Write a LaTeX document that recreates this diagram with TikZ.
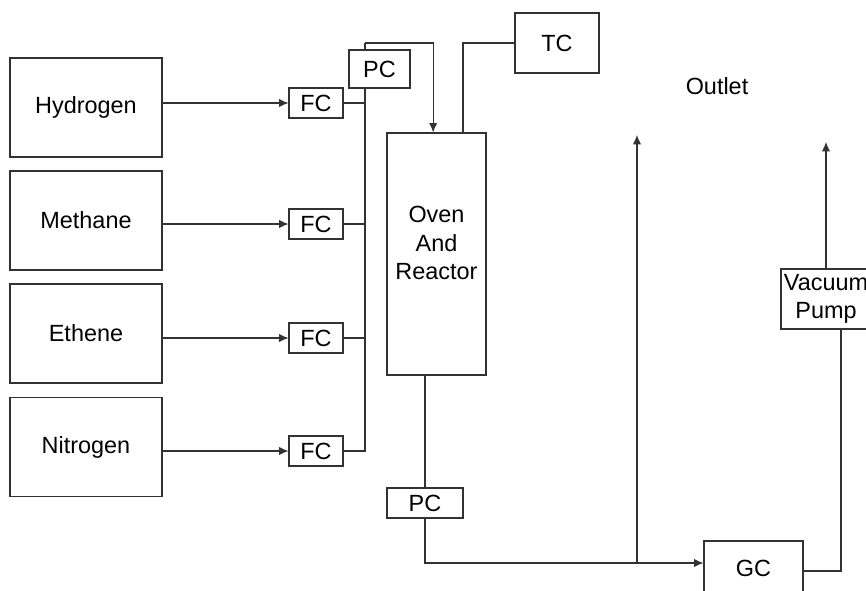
\documentclass[tikz,border=0pt]{standalone}
\usepackage{fontspec}
\setmainfont{Liberation Sans}
\usetikzlibrary{arrows.meta}
\definecolor{linegray}{RGB}{50,50,50}

\begin{document}
\begin{tikzpicture}[
    x=0.03cm, y=-0.03cm,
    every node/.style={font=\fontsize{20}{24}\selectfont},
    gas/.style={rectangle,draw=linegray,line width=0.9pt,inner sep=0pt,
      minimum width=4.56cm,minimum height=2.97cm},
    ctrl/.style={rectangle,draw=linegray,fill=white,line width=0.9pt,inner sep=0pt,
      minimum width=1.62cm,minimum height=0.9cm,align=center},
    line/.style={draw=linegray,line width=0.9pt},
    arrow/.style={line,-{Latex[length=8pt,width=7pt]}}
  ]
    \useasboundingbox (0,0) rectangle (866,591);
    \clip (0,0) rectangle (866,591);

    % gas supplies and flow controllers
    \node[gas] (hydrogen) at (86,107.5) {Hydrogen};
    \node[gas] (methane) at (86,220.5) {Methane};
    \node[gas] (ethene) at (86,333.5) {Ethene};
    \node[gas] (nitrogen) at (86,447) {Nitrogen};

    \node[ctrl] (fchyd) at (316,103) {FC};
    \node[ctrl] (fcmet) at (316,224) {FC};
    \node[ctrl] (fceth) at (316,338) {FC};
    \node[ctrl] (fcnit) at (316,451) {FC};

    \node[ctrl,minimum width=2.97cm,minimum height=7.26cm,
      label={[align=center,yshift=0.33cm]center:Oven\\And\\Reactor}] (oven) at (436.5,254) {};
    \node[ctrl,minimum width=2.52cm,minimum height=1.8cm] (tc) at (557,43) {TC};
    \node[ctrl,minimum width=2.28cm] (pcout) at (425,503) {PC};
    \node[ctrl,minimum width=2.97cm,minimum height=1.62cm] (gc) at (753.5,568) {GC};
    \node[ctrl,minimum width=2.7cm,minimum height=1.8cm] (pump) at (826,299) {Vacuum\\Pump};
    \node (outlet) at (717,86) {Outlet};

    \coordinate (bustop) at (365,43);
    \coordinate (busbot) at (365,451);
    \coordinate (split) at (637,563);
    \coordinate (vent) at (637,135);
    \coordinate (exhaust) at (826,142);

    \draw[arrow] (hydrogen.east |- fchyd.west) -- (fchyd.west);
    \draw[arrow] (methane.east |- fcmet.west) -- (fcmet.west);
    \draw[arrow] (ethene.east |- fceth.west) -- (fceth.west);
    \draw[arrow] (nitrogen.east |- fcnit.west) -- (fcnit.west);

    % manifold into the oven
    \draw[line] (fchyd.east) -- (fchyd.east -| bustop);
    \draw[line] (fcmet.east) -- (fcmet.east -| bustop);
    \draw[line] (fceth.east) -- (fceth.east -| bustop);
    \draw[line] (fcnit.east) -- (busbot) -- (bustop);
    \draw[arrow] (bustop) -| ([xshift=-0.1cm]oven.north);
    \node[ctrl,minimum width=1.83cm,minimum height=1.14cm] (pcin) at (379.5,69) {PC};

    \draw[line] ([xshift=0.795cm]oven.north) |- (tc.west);

    % outlet side
    \draw[line] (oven.south -| pcout.north) -- (pcout.north);
    \draw[line] (pcout.south) |- (split);
    \draw[arrow] (split) -- (split -| gc.west);
    \draw[arrow] (split) -- (vent);
    \draw[line] ([yshift=-0.09cm]gc.east) -| ([xshift=0.45cm]pump.south);
    \draw[arrow] (pump.north) -- (exhaust);
  \end{tikzpicture}
\end{document}
